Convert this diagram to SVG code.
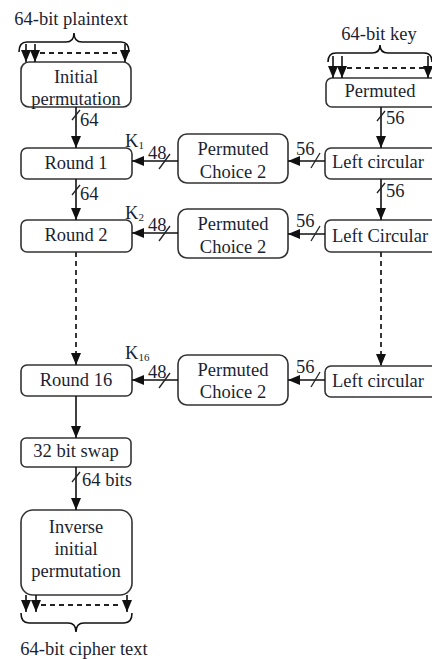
<svg xmlns="http://www.w3.org/2000/svg" width="432" height="659" viewBox="0 0 432 659">
<defs>
<marker id="ah" markerUnits="userSpaceOnUse" markerWidth="12" markerHeight="10" viewBox="0 0 12 10" refX="12" refY="5" orient="auto">
<path d="M0,0 L12,5 L0,10 Z" fill="#111"/>
</marker>
</defs>
<style>
.box{fill:#fff;stroke:#333;stroke-width:1.6}
.t{font-family:"Liberation Serif","Times New Roman",serif;font-size:18.5px;fill:#1c1f33}
.m{text-anchor:middle}
.s{font-size:11px}
.ln{fill:none;stroke:#111;stroke-width:1.6}
.dash{fill:none;stroke:#222;stroke-width:1.8;stroke-dasharray:5,4}
.sl{fill:none;stroke:#222;stroke-width:1.3}
</style>

<rect width="432" height="659" fill="#fff"/>

<!-- plaintext input -->
<g id="plaintext">
<text class="t m" x="71" y="25">64-bit plaintext</text>
<path class="ln" d="M19,52 Q19,42 27,42 L66,42 Q74,42 74,33 Q74,42 82,42 L121,42 Q129,42 129,52"/>
</g>

<g id="ip">
<rect class="box" x="21" y="62" width="110" height="45" rx="8"/>
<text class="t m" x="76" y="83">Initial</text>
<text class="t m" x="76" y="105">permutation</text>
</g>

<g id="round1">
<rect class="box" x="21" y="148" width="111" height="31" rx="6"/>
<text class="t m" x="76" y="169">Round 1</text>
</g>
<g id="round2">
<rect class="box" x="21" y="220" width="111" height="32" rx="6"/>
<text class="t m" x="76" y="241">Round 2</text>
</g>
<g id="round16">
<rect class="box" x="21" y="365" width="111" height="31" rx="6"/>
<text class="t m" x="76" y="386">Round 16</text>
</g>
<g id="swap">
<rect class="box" x="21" y="438" width="110" height="29" rx="5"/>
<text class="t m" x="76" y="457">32 bit swap</text>
</g>
<g id="iip">
<rect class="box" x="21" y="510" width="111" height="85" rx="12"/>
<text class="t m" x="76" y="533">Inverse</text>
<text class="t m" x="76" y="555">initial</text>
<text class="t m" x="76" y="577">permutation</text>
</g>
<g id="ciphertext">
<path class="ln" d="M21,613 Q21,623 29,623 L68,623 Q76,623 76,632 Q76,623 84,623 L124,623 Q132,623 132,613"/>
<text class="t m" x="84" y="655">64-bit cipher text</text>
</g>

<!-- key side -->
<g id="key">
<text class="t m" x="379" y="40">64-bit key</text>
<path class="ln" d="M328,62 Q328,53 336,53 L372,53 Q380,53 380,45 Q380,53 388,53 L424,53 Q432,53 432,62"/>
</g>
<g id="pc1">
<rect class="box" x="326" y="78" width="120" height="29" rx="6"/>
<text class="t m" x="380" y="97">Permuted</text>
</g>
<g id="lc1">
<rect class="box" x="325" y="148" width="120" height="31" rx="6"/>
<text class="t" x="332" y="168">Left circular</text>
</g>
<g id="lc2">
<rect class="box" x="325" y="220" width="120" height="32" rx="6"/>
<text class="t" x="332" y="242">Left Circular</text>
</g>
<g id="lc16">
<rect class="box" x="325" y="366" width="120" height="31" rx="6"/>
<text class="t" x="332" y="387">Left circular</text>
</g>
<g id="pc2_1">
<rect class="box" x="178" y="134" width="110" height="49" rx="9"/>
<text class="t m" x="233" y="155">Permuted</text>
<text class="t m" x="233" y="178">Choice 2</text>
</g>
<g id="pc2_2">
<rect class="box" x="178" y="209" width="110" height="49" rx="9"/>
<text class="t m" x="233" y="230">Permuted</text>
<text class="t m" x="233" y="253">Choice 2</text>
</g>
<g id="pc2_16">
<rect class="box" x="178" y="355" width="110" height="50" rx="9"/>
<text class="t m" x="233" y="376">Permuted</text>
<text class="t m" x="233" y="398">Choice 2</text>
</g>

<g id="connectors">
<!-- plaintext arrows -->
<line class="ln" x1="26" y1="44" x2="26" y2="62" marker-end="url(#ah)"/>
<line class="ln" x1="35" y1="44" x2="35" y2="62" marker-end="url(#ah)"/>
<line class="ln" x1="125" y1="44" x2="125" y2="62" marker-end="url(#ah)"/>
<line class="dash" x1="40" y1="53" x2="120" y2="53"/>
<!-- key arrows -->
<line class="ln" x1="333" y1="56" x2="333" y2="78" marker-end="url(#ah)"/>
<line class="ln" x1="342" y1="56" x2="342" y2="78" marker-end="url(#ah)"/>
<line class="ln" x1="428" y1="56" x2="428" y2="78" marker-end="url(#ah)"/>
<line class="dash" x1="347" y1="68" x2="424" y2="68"/>

<!-- main chain -->
<line class="ln" x1="76" y1="107" x2="76" y2="148" marker-end="url(#ah)"/>
<line class="sl" x1="72" y1="120" x2="80" y2="110"/>
<text class="t" x="80" y="126">64</text>
<line class="ln" x1="76" y1="179" x2="76" y2="220" marker-end="url(#ah)"/>
<line class="sl" x1="72" y1="195" x2="80" y2="185"/>
<text class="t" x="80" y="200">64</text>
<line class="dash" x1="76" y1="252" x2="76" y2="365" marker-end="url(#ah)"/>
<line class="ln" x1="76" y1="396" x2="76" y2="438" marker-end="url(#ah)"/>
<line class="ln" x1="76" y1="467" x2="76" y2="510" marker-end="url(#ah)"/>
<line class="sl" x1="72" y1="482" x2="80" y2="472"/>
<text class="t" x="82" y="486">64 bits</text>
<!-- output arrows -->
<line class="ln" x1="26" y1="595" x2="26" y2="612" marker-end="url(#ah)"/>
<line class="ln" x1="36" y1="595" x2="36" y2="612" marker-end="url(#ah)"/>
<line class="ln" x1="127" y1="595" x2="127" y2="612" marker-end="url(#ah)"/>
<line class="dash" x1="41" y1="605" x2="122" y2="605"/>

<!-- key chain -->
<line class="ln" x1="381" y1="107" x2="381" y2="148" marker-end="url(#ah)"/>
<line class="sl" x1="377" y1="121" x2="385" y2="111"/>
<text class="t" x="386" y="124">56</text>
<line class="ln" x1="381" y1="179" x2="381" y2="220" marker-end="url(#ah)"/>
<line class="sl" x1="377" y1="193" x2="385" y2="183"/>
<text class="t" x="386" y="197">56</text>
<line class="dash" x1="381" y1="252" x2="381" y2="366" marker-end="url(#ah)"/>

<!-- LC -> PC2 -->
<line class="ln" x1="325" y1="161" x2="288" y2="161" marker-end="url(#ah)"/>
<line class="sl" x1="311" y1="168" x2="320" y2="153"/>
<text class="t" x="296" y="155">56</text>
<line class="ln" x1="325" y1="234" x2="288" y2="234" marker-end="url(#ah)"/>
<line class="sl" x1="311" y1="241" x2="320" y2="226"/>
<text class="t" x="296" y="227">56</text>
<line class="ln" x1="325" y1="380" x2="288" y2="380" marker-end="url(#ah)"/>
<line class="sl" x1="311" y1="387" x2="320" y2="372"/>
<text class="t" x="296" y="373">56</text>

<!-- PC2 -> Round -->
<line class="ln" x1="178" y1="161" x2="132" y2="161" marker-end="url(#ah)"/>
<line class="sl" x1="159" y1="169" x2="170" y2="154"/>
<text class="t" x="148" y="159">48</text>
<text class="t" x="125" y="147">K<tspan class="s" dy="2">1</tspan></text>
<line class="ln" x1="178" y1="233" x2="132" y2="233" marker-end="url(#ah)"/>
<line class="sl" x1="159" y1="241" x2="170" y2="226"/>
<text class="t" x="148" y="231">48</text>
<text class="t" x="125" y="219">K<tspan class="s" dy="2">2</tspan></text>
<line class="ln" x1="178" y1="380" x2="132" y2="380" marker-end="url(#ah)"/>
<line class="sl" x1="159" y1="388" x2="170" y2="373"/>
<text class="t" x="148" y="378">48</text>
<text class="t" x="125" y="359">K<tspan class="s" dy="2">16</tspan></text>
</g>
</svg>
